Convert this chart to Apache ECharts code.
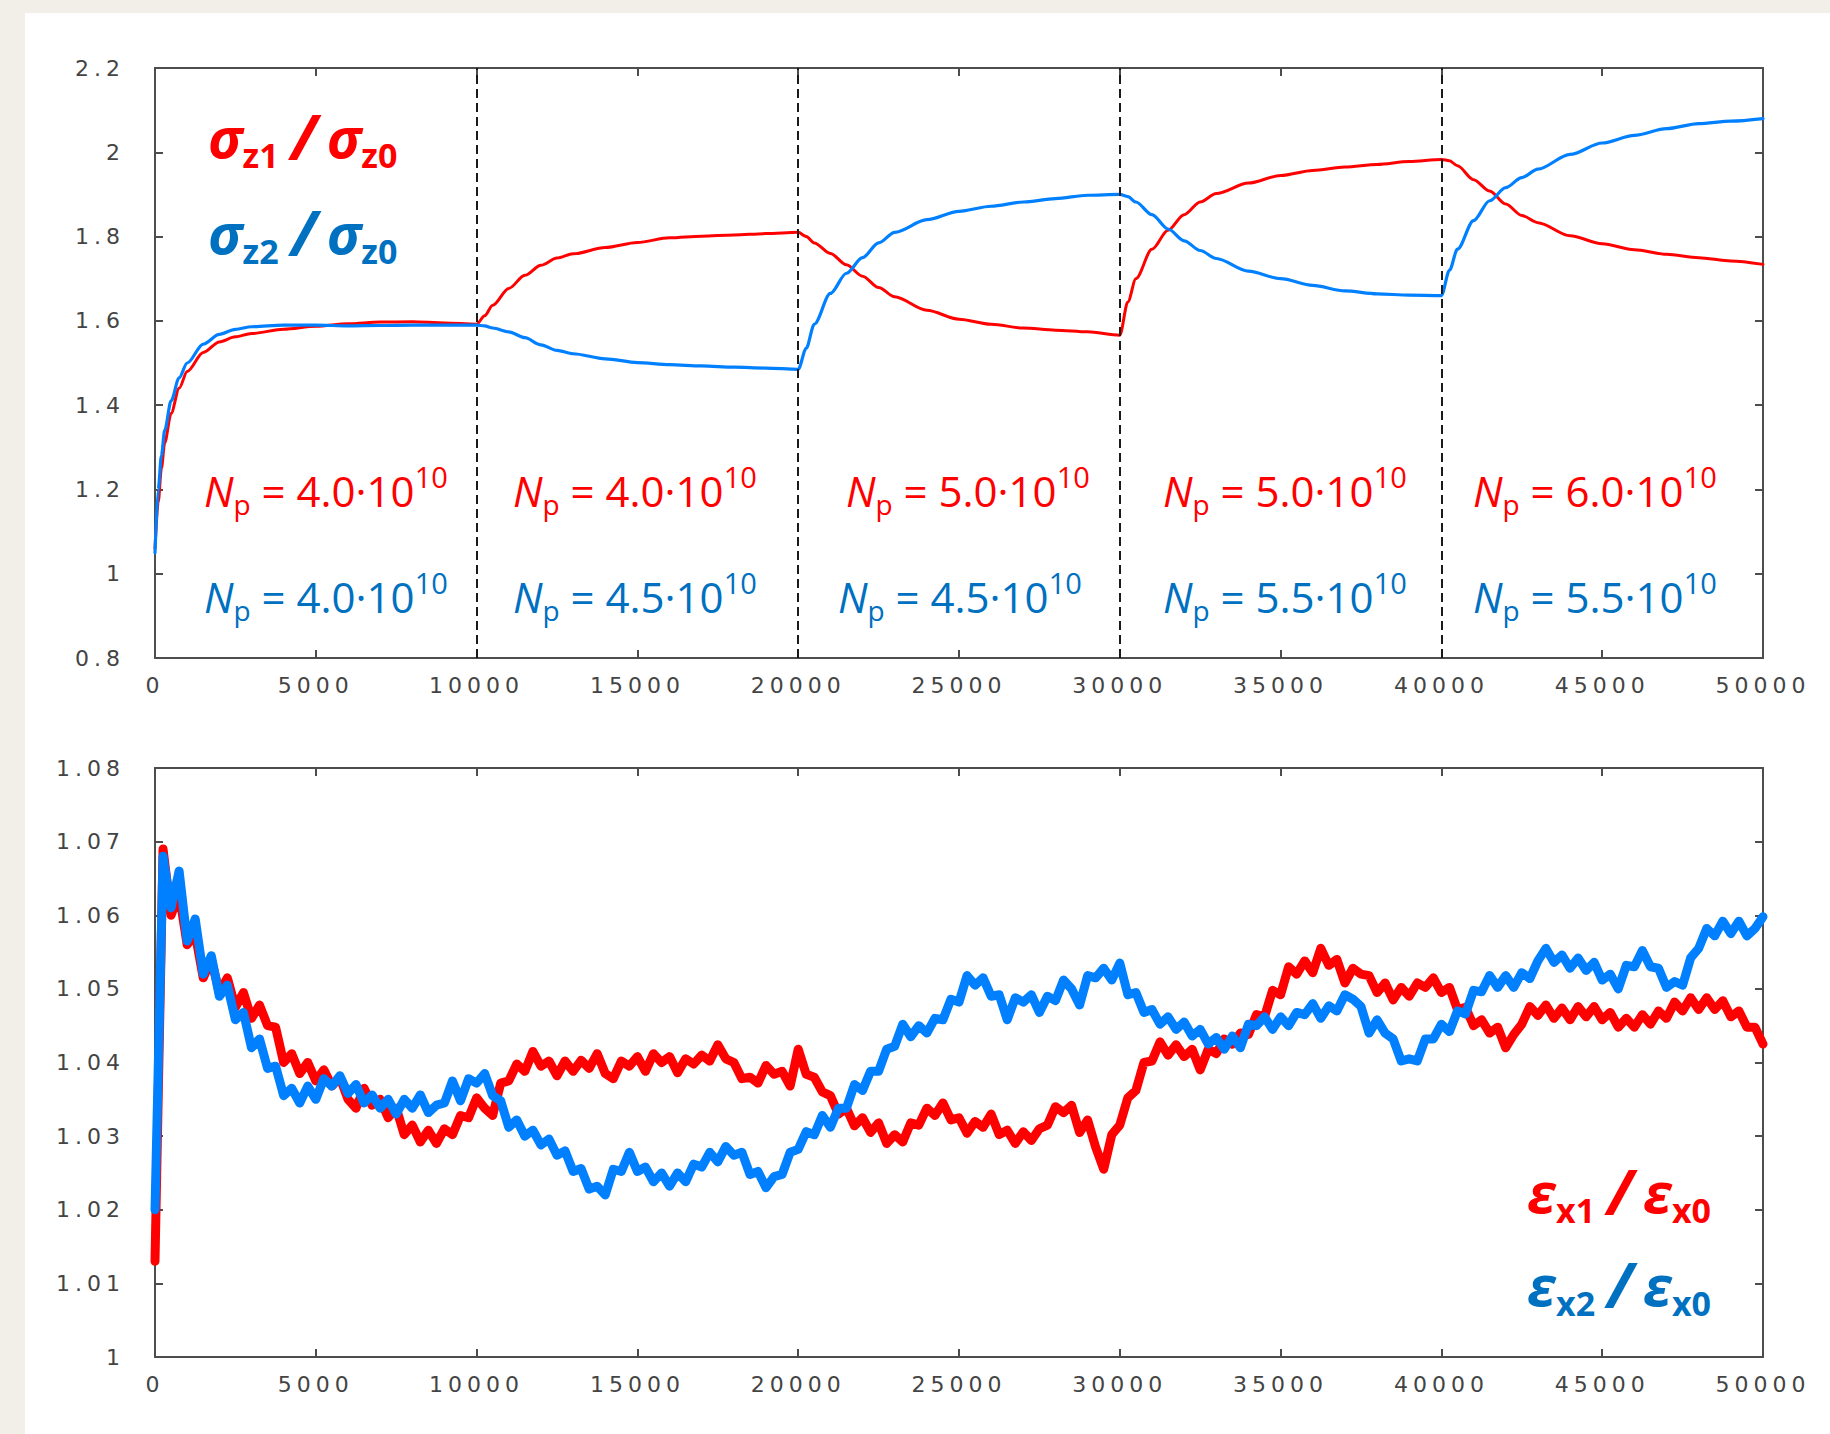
<!DOCTYPE html>
<html>
<head>
<meta charset="utf-8">
<script src="https://cdn.jsdelivr.net/npm/echarts@6/dist/echarts.min.js"></script>
<style>
  html, body { margin: 0; padding: 0; background: #f2efe8; }
  #chart { width: 1830px; height: 1434px; }
</style>
</head>
<body>
<div id="chart"></div>
<script>
// ---- Upper panel: bunch length ratios vs. turn number ----
const topTurns = [0,100,200,300,500,750,1000,1500,2000,2500,3000,4000,5000,6000,7000,8000,9000,10000,
  10250,10500,11000,11500,12000,12500,13000,14000,15000,16000,17000,18000,19000,20000,
  20250,20500,21000,21500,22000,22500,23000,24000,25000,26000,27000,28000,29000,30000,
  30250,30500,31000,31500,32000,32500,33000,34000,35000,36000,37000,38000,39000,40000,
  40250,40500,41000,41500,42000,42500,43000,44000,45000,46000,47000,48000,49000,50000];

const sigmaZ1 = [1.06,1.17,1.25,1.31,1.38,1.44,1.48,1.525,1.55,1.562,1.570,1.580,1.587,1.593,1.597,1.598,1.595,1.592,
  1.612,1.637,1.677,1.708,1.732,1.749,1.759,1.774,1.786,1.797,1.801,1.804,1.807,1.810,
  1.800,1.785,1.760,1.733,1.706,1.679,1.657,1.625,1.604,1.592,1.583,1.578,1.574,1.566,
  1.645,1.700,1.770,1.815,1.852,1.882,1.902,1.927,1.945,1.957,1.965,1.971,1.978,1.983,
  1.980,1.968,1.935,1.908,1.877,1.850,1.833,1.802,1.783,1.769,1.758,1.750,1.742,1.734];

const sigmaZ2 = [1.05,1.20,1.28,1.34,1.41,1.465,1.50,1.545,1.568,1.580,1.586,1.590,1.590,1.588,1.589,1.590,1.590,1.590,
  1.588,1.583,1.574,1.560,1.543,1.530,1.522,1.510,1.501,1.496,1.493,1.490,1.488,1.485,
  1.535,1.592,1.665,1.713,1.750,1.785,1.810,1.840,1.860,1.872,1.882,1.890,1.898,1.900,
  1.895,1.882,1.852,1.818,1.790,1.767,1.748,1.718,1.700,1.684,1.671,1.664,1.661,1.660,
  1.720,1.770,1.838,1.885,1.916,1.940,1.960,1.995,2.022,2.040,2.056,2.068,2.074,2.080];

// turns at which the bunch intensities are switched
const switchTurns = [10000, 20000, 30000, 40000];

// bunch populations (units of 1e10) in each interval
const intensityBeam1 = ['4.0', '4.0', '5.0', '5.0', '6.0'];
const intensityBeam2 = ['4.0', '4.5', '4.5', '5.5', '5.5'];

// ---- Lower panel: horizontal emittance ratios, sampled every 250 turns ----
const emitTurnStep = 250;

const epsX1 = [
  1.0130,1.0690,1.0600,1.0630,1.0560,1.0575,1.0515,1.0540,1.0495,1.0515,
  1.0475,1.0495,1.0460,1.0478,1.0450,1.0448,1.0400,1.0412,1.0385,1.0400,
  1.0375,1.0390,1.0368,1.0380,1.0350,1.0338,1.0365,1.0342,1.0350,1.0325,
  1.0338,1.0302,1.0315,1.0292,1.0308,1.0290,1.0310,1.0302,1.0328,1.0325,
  1.0352,1.0338,1.0328,1.0372,1.0375,1.0398,1.0388,1.0415,1.0395,1.0402,
  1.0382,1.0402,1.0388,1.0403,1.0392,1.0412,1.0385,1.0378,1.0402,1.0395,
  1.0408,1.0388,1.0412,1.0400,1.0408,1.0386,1.0405,1.0398,1.0410,1.0402,
  1.0424,1.0405,1.0400,1.0378,1.0380,1.0372,1.0396,1.0384,1.0388,1.0368,
  1.0418,1.0384,1.0380,1.0360,1.0355,1.0330,1.0338,1.0314,1.0325,1.0305,
  1.0318,1.0290,1.0302,1.0292,1.0318,1.0315,1.0338,1.0328,1.0345,1.0322,
  1.0325,1.0304,1.0320,1.0312,1.0330,1.0302,1.0308,1.0290,1.0306,1.0294,
  1.0310,1.0315,1.0340,1.0332,1.0342,1.0305,1.0322,1.0285,1.0255,1.0302,
  1.0315,1.0352,1.0362,1.0400,1.0402,1.0428,1.0410,1.0424,1.0408,1.0418,
  1.0390,1.0418,1.0412,1.0432,1.0425,1.0440,1.0438,1.0465,1.0462,1.0498,
  1.0492,1.0530,1.0520,1.0538,1.0522,1.0555,1.0532,1.0540,1.0508,1.0528,
  1.0520,1.0518,1.0495,1.0508,1.0485,1.0502,1.0490,1.0508,1.0502,1.0515,
  1.0495,1.0502,1.0472,1.0475,1.0450,1.0458,1.0440,1.0448,1.0420,1.0438,
  1.0452,1.0476,1.0464,1.0478,1.0460,1.0474,1.0458,1.0476,1.0462,1.0476,
  1.0458,1.0468,1.0448,1.0460,1.0448,1.0465,1.0452,1.0470,1.0460,1.0482,
  1.0470,1.0488,1.0472,1.0488,1.0472,1.0484,1.0462,1.0470,1.0448,1.0448,
  1.0425];

const epsX2 = [
  1.0200,1.0680,1.0610,1.0660,1.0565,1.0595,1.0520,1.0545,1.0490,1.0505,
  1.0458,1.0468,1.0420,1.0432,1.0392,1.0395,1.0355,1.0365,1.0345,1.0368,
  1.0350,1.0378,1.0368,1.0382,1.0358,1.0370,1.0345,1.0356,1.0338,1.0350,
  1.0330,1.0350,1.0338,1.0356,1.0332,1.0342,1.0345,1.0375,1.0348,1.0378,
  1.0372,1.0385,1.0355,1.0348,1.0312,1.0322,1.0300,1.0308,1.0288,1.0296,
  1.0274,1.0280,1.0252,1.0256,1.0228,1.0232,1.0220,1.0255,1.0252,1.0278,
  1.0252,1.0258,1.0238,1.0250,1.0232,1.0250,1.0238,1.0262,1.0258,1.0278,
  1.0265,1.0286,1.0274,1.0278,1.0248,1.0252,1.0230,1.0245,1.0248,1.0278,
  1.0282,1.0306,1.0302,1.0328,1.0312,1.0338,1.0338,1.0370,1.0362,1.0388,
  1.0388,1.0418,1.0422,1.0452,1.0435,1.0450,1.0440,1.0460,1.0458,1.0486,
  1.0482,1.0518,1.0505,1.0515,1.0490,1.0492,1.0458,1.0488,1.0482,1.0492,
  1.0468,1.0490,1.0484,1.0512,1.0500,1.0478,1.0518,1.0515,1.0528,1.0512,
  1.0535,1.0492,1.0495,1.0468,1.0472,1.0452,1.0462,1.0445,1.0455,1.0436,
  1.0445,1.0425,1.0434,1.0418,1.0436,1.0420,1.0452,1.0450,1.0462,1.0445,
  1.0462,1.0450,1.0468,1.0465,1.0480,1.0460,1.0477,1.0470,1.0492,1.0486,
  1.0476,1.0440,1.0458,1.0440,1.0432,1.0402,1.0405,1.0402,1.0432,1.0432,
  1.0452,1.0442,1.0470,1.0466,1.0498,1.0496,1.0518,1.0502,1.0518,1.0502,
  1.0522,1.0514,1.0538,1.0555,1.0536,1.0546,1.0528,1.0542,1.0525,1.0536,
  1.0512,1.0520,1.0500,1.0532,1.0530,1.0552,1.0530,1.0528,1.0502,1.0510,
  1.0505,1.0542,1.0555,1.0582,1.0572,1.0592,1.0575,1.0592,1.0572,1.0582,
  1.0598];

// ---- styling ----
const RED = '#ff0000';
const BLUE = '#0080ff';
const TEXT_RED = '#ff0000';
const TEXT_BLUE = '#0070c0';
const FRAME = '#4d4d4d';
const TICK_FONT = 'DejaVu Sans';

const topPairs = vals => topTurns.map((t, i) => [t, vals[i]]);
const emitPairs = vals => vals.map((v, i) => [i * emitTurnStep, v]);

function turnAxes(grid) {
  const common = {
    gridIndex: grid, type: 'value', min: 0, max: 50000, interval: 5000,
    axisLine: { show: true, onZero: false, lineStyle: { color: FRAME, width: 2 } },
    axisTick: { show: true, inside: true, length: 8, lineStyle: { color: FRAME, width: 2 } },
    splitLine: { show: false }
  };
  return [
    Object.assign({}, common, {
      position: 'bottom',
      axisLabel: { fontFamily: TICK_FONT, fontSize: 22, color: '#444', margin: 16,
                   formatter: v => String(v) }
    }),
    Object.assign({}, common, { position: 'top', axisLabel: { show: false } })
  ];
}

function ratioAxes(grid, min, max, interval) {
  const common = {
    gridIndex: grid, type: 'value', min: min, max: max, interval: interval,
    axisLine: { show: true, onZero: false, lineStyle: { color: FRAME, width: 2 } },
    axisTick: { show: true, inside: true, length: 8, lineStyle: { color: FRAME, width: 2 } },
    splitLine: { show: false }
  };
  return [
    Object.assign({}, common, {
      position: 'left',
      axisLabel: { fontFamily: TICK_FONT, fontSize: 22, color: '#444', margin: 30 }
    }),
    Object.assign({}, common, { position: 'right', axisLabel: { show: false } })
  ];
}

// rich text styles for the annotations
const ratioRich = {
  g: { fontFamily: 'Open Sans', fontSize: 56, fontWeight: 'bold', fontStyle: 'italic', lineHeight: 72 },
  s: { fontFamily: 'Open Sans', fontSize: 34, fontWeight: 'bold', lineHeight: 34, verticalAlign: 'bottom' },
  d: { fontFamily: 'Open Sans', fontSize: 62, fontWeight: 'bold', fontStyle: 'italic', lineHeight: 72, padding: [0, 10, 0, 12] }
};
const npRich = {
  n: { fontFamily: 'Open Sans', fontSize: 42, fontStyle: 'italic', lineHeight: 56 },
  p: { fontFamily: 'Open Sans', fontSize: 28, lineHeight: 28, verticalAlign: 'bottom' },
  t: { fontFamily: 'Open Sans', fontSize: 42, lineHeight: 56 },
  e: { fontFamily: 'Open Sans', fontSize: 29, lineHeight: 40, verticalAlign: 'top' }
};
const npText = v => '{n|N}{p|p}{t| = ' + v + '·10}{e|10}';

// left edges of the intensity labels in each interval (px)
const npLeftRed = [204, 513, 846, 1163, 1473];
const npLeftBlue = [204, 513, 838, 1163, 1473];

const graphics = [
  { type: 'rect', z: -10, silent: true, shape: { x: 25, y: 13, width: 1805, height: 1421 }, style: { fill: '#ffffff' } },
  { type: 'text', x: 208, y: 136, silent: true,
    style: { text: '{g|σ}{s|z1}{d|/}{g|σ}{s|z0}', rich: ratioRich, fill: TEXT_RED, align: 'left', verticalAlign: 'middle' } },
  { type: 'text', x: 208, y: 232, silent: true,
    style: { text: '{g|σ}{s|z2}{d|/}{g|σ}{s|z0}', rich: ratioRich, fill: TEXT_BLUE, align: 'left', verticalAlign: 'middle' } },
  { type: 'text', x: 1711, y: 1191, silent: true,
    style: { text: '{g|ε}{s|x1}{d|/}{g|ε}{s|x0}', rich: ratioRich, fill: TEXT_RED, align: 'right', verticalAlign: 'middle' } },
  { type: 'text', x: 1711, y: 1284, silent: true,
    style: { text: '{g|ε}{s|x2}{d|/}{g|ε}{s|x0}', rich: ratioRich, fill: TEXT_BLUE, align: 'right', verticalAlign: 'middle' } }
];
intensityBeam1.forEach((v, i) => graphics.push({
  type: 'text', x: npLeftRed[i], y: 490, silent: true,
  style: { text: npText(v), rich: npRich, fill: TEXT_RED, align: 'left', verticalAlign: 'middle' }
}));
intensityBeam2.forEach((v, i) => graphics.push({
  type: 'text', x: npLeftBlue[i], y: 596, silent: true,
  style: { text: npText(v), rich: npRich, fill: TEXT_BLUE, align: 'left', verticalAlign: 'middle' }
}));

const lineSeries = (xi, yi, data, color, width, smooth) => ({
  type: 'line', xAxisIndex: xi, yAxisIndex: yi, data: data,
  showSymbol: false, symbol: 'none', silent: true,
  smooth: smooth ? 0.3 : false, smoothMonotone: 'x',
  lineStyle: { color: color, width: width, join: 'round', cap: 'round' },
  itemStyle: { color: color }
});

const topRed = lineSeries(0, 0, topPairs(sigmaZ1), RED, 3, true);
const topBlue = lineSeries(0, 0, topPairs(sigmaZ2), BLUE, 3.2, true);
topBlue.markLine = {
  silent: true, symbol: ['none', 'none'], label: { show: false },
  lineStyle: { color: '#1a1a1a', width: 2, type: [9, 5] },
  emphasis: { disabled: true },
  data: switchTurns.map(t => ({ xAxis: t }))
};

const option = {
  animation: false,
  backgroundColor: 'transparent',
  grid: [
    { left: 155, right: 67, top: 68, height: 590 },
    { left: 155, right: 67, top: 768, height: 589 }
  ],
  xAxis: [...turnAxes(0), ...turnAxes(1)],
  yAxis: [...ratioAxes(0, 0.8, 2.2, 0.2), ...ratioAxes(1, 1, 1.08, 0.01)],
  graphic: graphics,
  series: [
    topRed,
    topBlue,
    lineSeries(2, 2, emitPairs(epsX1), RED, 9, false),
    lineSeries(2, 2, emitPairs(epsX2), BLUE, 9, false)
  ]
};

const dom = document.getElementById('chart');
const chart = echarts.init(dom, null, { renderer: 'svg' });
chart.setOption(option);

// widen the gnuplot-style tick numbers
function spaceTickLabels() {
  dom.querySelectorAll('text').forEach(t => {
    if (/DejaVu/.test(getComputedStyle(t).fontFamily)) t.style.letterSpacing = '5px';
  });
}
chart.on('finished', spaceTickLabels);
spaceTickLabels();
</script>
</body>
</html>
